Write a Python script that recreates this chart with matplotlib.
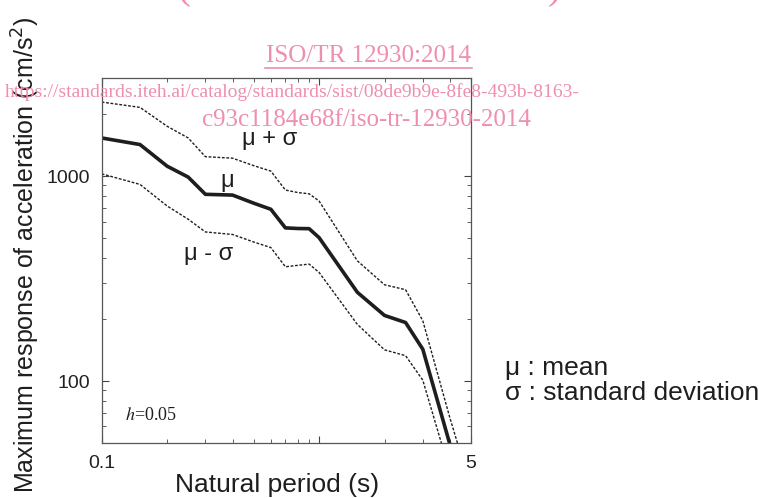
import numpy as np
import matplotlib
matplotlib.use("Agg")
import matplotlib.pyplot as plt

plt.rcParams['font.family'] = ['Liberation Sans', 'DejaVu Sans']

period = [0.1, 0.15, 0.2, 0.25, 0.3, 0.4, 0.5, 0.6, 0.7, 0.8, 0.9, 1.0,
          1.5, 2.0, 2.5, 3.0, 4.0, 5.0]
mean = [1535, 1426, 1118, 989, 815, 808, 738, 689, 559, 555, 554, 501,
        271, 209, 193, 143, 49, 25]
upper = [2298, 2165, 1751, 1535, 1244, 1223, 1125, 1058, 855, 831, 820, 756,
         386, 295, 279, 197, 66, 30]
lower = [1026, 911, 715, 616, 534, 519, 477, 448, 361, 367, 372, 339,
         189, 142, 133, 101, 36, 18]

pink = '#EE8FAD'
ink = '#1e1e1e'
W, H = 764, 498

fig = plt.figure(figsize=(W / 100, H / 100), dpi=100)
ax = fig.add_axes([0.1331, 0.1110, 0.4834, 0.7317])

ax.plot(period, upper, color=ink, lw=1.0, ls=(0, (2, 1.2)))
ax.plot(period, mean, color=ink, lw=2.6)
ax.plot(period, lower, color=ink, lw=1.0, ls=(0, (2, 1.2)))

ax.set_xscale('log')
ax.set_yscale('log')
ax.set_xlim(0.1, 5)
ax.set_ylim(50, 3000)

ax.set_xticks([0.1, 1, 5])
ax.set_xticklabels(['0.1', '', '5'])
ax.set_yticks([100, 1000])
ax.set_yticklabels(['100', '1000'])
ax.tick_params(which='both', direction='in', top=True, right=True,
               colors='#444444', labelcolor='#222222', labelsize=14)
ax.tick_params(which='major', length=5, width=0.8)
ax.tick_params(which='minor', length=3, width=0.6)
ax.tick_params(axis='x', pad=9)
ax.tick_params(axis='y', pad=8.5)
for s in ax.spines.values():
    s.set_color('#555555')
    s.set_linewidth(0.9)

ax.text(0.594, 1520, 'μ + σ', fontsize=17, ha='center', va='center', color=ink)
ax.text(0.377, 946, 'μ', fontsize=17, ha='center', va='center', color=ink)
ax.text(0.3116, 418, 'μ - σ', fontsize=17, ha='center', va='center', color=ink,
        bbox=dict(facecolor='white', edgecolor='none', pad=1))
ax.text(0.128, 68, r'$h$=0.05', fontsize=13, ha='left', va='center',
        color=ink, family='Liberation Serif', math_fontfamily='stix')

fig.text(277 / W, 1 - 485 / H, 'Natural period (s)', fontsize=19,
         ha='center', va='center', color=ink)
fig.text(26 / W, 1 - 255 / H, 'Maximum response of acceleration (cm/s$^2$)',
         fontsize=18, rotation=90, ha='center', va='center', color=ink)

fig.text(505 / W, 1 - 368 / H, 'μ : mean', fontsize=19,
         ha='left', va='center', color=ink)
fig.text(505 / W, 1 - 393 / H, 'σ : standard deviation', fontsize=19,
         ha='left', va='center', color=ink)

# watermark
fig.text(368 / W, 1 - 56 / H, 'ISO/TR 12930:2014', fontsize=18,
         family='Liberation Serif', color=pink, ha='center', va='center')
fig.add_artist(plt.Line2D([265 / W, 472 / W], [1 - 68 / H, 1 - 68 / H],
                          color=pink, lw=1.2))
fig.text(5 / W, 1 - 97 / H,
         'https://standards.iteh.ai/catalog/standards/sist/08de9b9e-8fe8-493b-8163-',
         fontsize=14, family='Liberation Serif', color=pink, ha='left',
         va='baseline')
fig.text(202 / W, 1 - 120 / H, 'c93c1184e68f/iso-tr-12930-2014',
         fontsize=18, family='Liberation Serif', color=pink, ha='left', va='center')
fig.text(183 / W, 1 + 12 / H, '(', fontsize=30, family='Liberation Serif',
         color=pink, ha='center', va='center')
fig.text(555 / W, 1 + 12 / H, ')', fontsize=30, family='Liberation Serif',
         color=pink, ha='center', va='center')

fig.savefig('out.png', dpi=100)
